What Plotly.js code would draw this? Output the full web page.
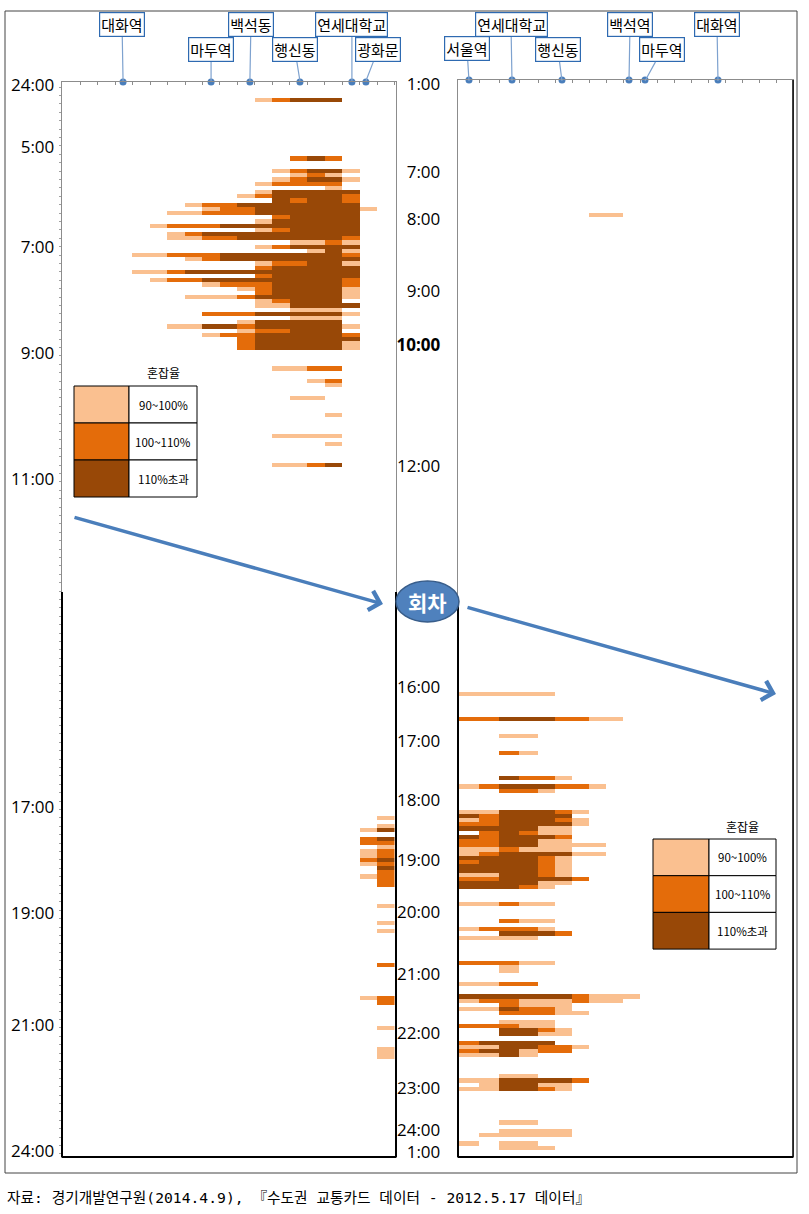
<!DOCTYPE html>
<html><head><meta charset="utf-8">
<script src="https://cdn.plot.ly/plotly-3.0.1.min.js"></script>
<style>html,body{margin:0;padding:0;background:#fff;}#chart{width:809px;height:1214px;}</style>
</head><body><div id="chart"></div>
<script>
// ---------------- DATA ----------------
const levelNames = ['90~100%', '100~110%', '110%초과'];
const levelColors = ['#FAC090', '#E46C0A', '#984807'];

// left panel (대화 → 광화문), 19 segments, train rows
const leftStations = ['대화역', '마두역', '백석동', '행신동', '연세대학교', '광화문'];
const leftStationX = [3.46, 8.49, 10.71, 13.57, 16.54, 17.34];
const leftColEdges = [0,1,2,3,4,5,6,7,8,9,10,11,12,13,14,15,16,17,18,19];
const leftTickPos = [-0.5, 14.3, 38.1, 63.3, 93.3, 171.4, 196.6, 223.3, 253.3];
const leftTickText = ['24:00', '5:00', '7:00', '9:00', '11:00', '17:00', '19:00', '21:00', '24:00'];
const leftRow = [3,17,20,21,22,23,24,25,26,27,28,29,30,31,32,33,34,35,36,37,38,39,40,41,42,43,44,45,46,47,48,49,50,51,52,53,54,55,56,57,58,59,60,61,62,
  67,70,71,74,78,83,85,90,
  174,176,177,179,180,181,182,183,184,185,186,187,188,189,190,195,199,201,209,217,218,224,229,230,231];
const leftStart = [11,13,12,13,12,11,15,11,10,12,7,8,6,12,11,5,11,6,6,13,11,14,4,7,11,11,4,11,5,8,10,11,7,11,11,13,8,13,10,6,10,8,10,10,10,
  12,14,15,13,15,12,15,12,
  18,18,17,17,17,18,17,17,17,17,18,18,17,18,18,18,18,18,18,17,18,18,18,18,18];
const leftCells = ['12333','232','12331','121','12331','12222','1','133333','1233332','32332','1223333333','1223333331','11222333333','23333','133333','122233333333','123333','12333333333','11223333332','1121','123333','131','1122233333332','1233333333','122331','233333','1123333333333','233333','122333333332','122233332','1233331','233331','1112333331','12333','113333','111','222333331','111','133333','11332333331','122333','122333332','2333333','2333331','2333331',
  '1122','12','1','11','1','1111','1','1123',
  '1','1','13','23','22','1','12','12','23','12','3','2','12','2','2','1','1','1','2','12','2','1','1','1','1'];

// right panel (서울역 → 대화), 19 segments (distance units)
const rightStations = ['서울역', '연세대학교', '행신동', '백석역', '마두역', '대화역'];
const rightStationX = [10, 53, 103, 170, 186, 259];
const rightColEdges = [0,20,40,60,79,96,113,130,147,164,181,198,215,232,249,266,283,300,317,334];
const rightTickPos = [-0.26, 20.7, 31.9, 49.0, 61.9, 90.7, 143.3, 156.2, 170.2, 184.5, 196.9, 211.6, 225.7, 238.8, 248.8, 254.0];
const rightTickText = ['1:00','7:00','8:00','9:00','<b>10:00</b>','12:00','16:00','17:00','18:00','19:00','20:00','21:00','22:00','23:00','24:00','1:00'];
const rightRow = [31,145,151,155,159,165,167,168,173,174,175,176,177,178,179,180,181,182,183,184,185,186,187,188,189,190,191,
  195,199,201,202,203,209,210,211,214,217,218,219,220,221,223,224,225,226,228,229,230,231,236,237,238,239,247,249,250,252,253];
const rightStart = [7,0,0,2,2,2,0,2,0,0,0,0,0,1,0,0,0,0,0,0,0,0,0,0,0,0,0,
  0,2,0,2,0,0,2,2,0,0,0,2,0,2,2,0,2,2,0,0,0,0,2,0,1,0,2,2,1,0,2];
const rightCells = ['11','11111','223332211','11','21','3221','12333221','221','1133321','323333','1233321','2233331','333311','23211','323332','223311','22331111','112111','12333311','333321','233321','333321','333321','113321','2233332','333311','33321',
  '11211','211','12221','3332','1111','22211','1','1','1122','3333332111','122111211','2111','113221','22211','111','22211','3321','3311','23333','1133221','233122','1131','11','1133332','13311','113321','11','1111','11111','1.11','111'];

// ---------------- BUILD ----------------
const W = 809, H = 1214;
const px = x => x / W, py = y => 1 - y / H;

function buildZ(nRows, rows, starts, cells) {
  const z = [];
  for (let r = 0; r < nRows; r++) z.push(new Array(19).fill(null));
  rows.forEach((r, i) => {
    const s = cells[i];
    for (let j = 0; j < s.length; j++) if (s[j] !== '.') z[r][starts[i] + j] = +s[j];
  });
  return z;
}
const NL = 256, NR = 257;
const rowsL = Array.from({length: NL}, (_, i) => i);
const rowsR = Array.from({length: NR}, (_, i) => i);
const cs = [[0, levelColors[0]], [1/3, levelColors[0]], [1/3, levelColors[1]], [2/3, levelColors[1]], [2/3, levelColors[2]], [1, levelColors[2]]];

const LTOP = -1.214, RTOP = -1.214;
const traces = [
  {type: 'heatmap', x: leftColEdges, y: rowsL, z: buildZ(NL, leftRow, leftStart, leftCells), xaxis: 'x', yaxis: 'y',
   colorscale: cs, zmin: 0.5, zmax: 3.5, showscale: false, hoverinfo: 'skip', zsmooth: false},
  {type: 'heatmap', x: rightColEdges, y: rowsR, z: buildZ(NR, rightRow, rightStart, rightCells), xaxis: 'x2', yaxis: 'y2',
   colorscale: cs, zmin: 0.5, zmax: 3.5, showscale: false, hoverinfo: 'skip', zsmooth: false},
  {type: 'scatter', mode: 'markers', x: leftStationX, y: leftStationX.map(() => LTOP), xaxis: 'x', yaxis: 'y',
   marker: {size: 7, color: '#4A7EBB'}, cliponaxis: false, hoverinfo: 'skip'},
  {type: 'scatter', mode: 'markers', x: rightStationX, y: rightStationX.map(() => RTOP), xaxis: 'x2', yaxis: 'y2',
   marker: {size: 7, color: '#4A7EBB'}, cliponaxis: false, hoverinfo: 'skip'}
];

const axLine = '#8c8c8c';
const tickFont = {family: 'Open Sans, Liberation Sans, sans-serif', size: 17, color: '#000'};
const minorY = {tickmode: 'linear', tick0: 0, dtick: 2, ticks: 'outside', ticklen: 2, tickcolor: '#a0a0a0', showgrid: false};
const layout = {
  width: W, height: H, margin: {l: 0, r: 0, t: 0, b: 0},
  paper_bgcolor: '#fff', plot_bgcolor: '#fff', showlegend: false,
  xaxis: {domain: [px(62), px(396)], range: [-0.03, 19.06], side: 'top', anchor: 'y', showline: true, mirror: true,
    linecolor: axLine, linewidth: 1.3, ticks: 'inside', ticklen: 3, tickcolor: axLine, tickvals: leftColEdges,
    showticklabels: false, showgrid: false, zeroline: false, fixedrange: true},
  yaxis: {domain: [py(1157), py(82)], range: [254.74, LTOP], anchor: 'x', showline: true, mirror: true,
    linecolor: axLine, linewidth: 1.3, ticks: '', tickvals: leftTickPos, ticktext: leftTickText, tickfont: tickFont,
    ticklabelstandoff: 3, minor: minorY, showgrid: false, zeroline: false, fixedrange: true},
  xaxis2: {domain: [px(458), px(793)], range: [-1, 334], side: 'top', anchor: 'y2', showline: true, mirror: true,
    linecolor: axLine, linewidth: 1.3, ticks: 'inside', ticklen: 3, tickcolor: axLine, tickvals: rightColEdges,
    showticklabels: false, showgrid: false, zeroline: false, fixedrange: true},
  yaxis2: {domain: [py(1157), py(80)], range: [255.2, RTOP], anchor: 'x2', showline: true, mirror: true,
    linecolor: axLine, linewidth: 1.3, ticks: '', tickvals: rightTickPos, ticktext: rightTickText, tickfont: tickFont,
    ticklabelstandoff: 13, showgrid: false, zeroline: false, fixedrange: true},
  shapes: [], annotations: []
};

const S = layout.shapes, A = layout.annotations;
function line(x0, y0, x1, y1, color, w) {
  S.push({type: 'line', xref: 'paper', yref: 'paper', x0: px(x0), y0: py(y0), x1: px(x1), y1: py(y1), line: {color: color, width: w}, layer: 'above'});
}
function rect(x0, y0, x1, y1, fill, color, w) {
  S.push({type: 'rect', xref: 'paper', yref: 'paper', x0: px(x0), y0: py(y0), x1: px(x1), y1: py(y1), fillcolor: fill, line: {color: color, width: w}, layer: 'above'});
}
function label(x, y, text, font) {
  A.push({x: px(x), y: py(y), xref: 'paper', yref: 'paper', xanchor: 'center', yanchor: 'middle', text: text, showarrow: false, font: font});
}
// outer frame
rect(5, 11, 797, 1173, 'rgba(0,0,0,0)', '#444', 1);
// darker lower frame segments
line(62, 592, 62, 1157, '#000', 2); line(396, 592, 396, 1157, '#000', 2); line(62, 1157, 396, 1157, '#000', 2);
line(458, 597, 458, 1157, '#000', 2); line(793, 80, 793, 1157, '#000', 1.5); line(458, 1157, 793, 1157, '#000', 2);

// station labels
const lblFont = {family: 'Noto Sans CJK KR, sans-serif', size: 15, color: '#000'};
function stationLabels(names, xs, xref, dotY, dxs, rowYs) {
  names.forEach((n, i) => A.push({x: xs[i], y: py(dotY), xref: xref, yref: 'paper', text: n, showarrow: true,
    arrowhead: 0, arrowwidth: 1.2, arrowcolor: '#7EA2CF', ax: dxs[i], ay: rowYs[i] - dotY,
    bordercolor: '#2E6AB1', borderwidth: 1.2, borderpad: 1, bgcolor: '#fff', font: lblFont}));
}
stationLabels(leftStations, leftStationX, 'x', 81, [-1, 0, 1, -5, 0, 12], [25, 50, 25, 50, 25, 50]);
stationLabels(rightStations, rightStationX, 'x2', 81, [-2, -1, -4, 1, 17, -1], [49, 25, 50, 25, 50, 25]);

// legend tables
const legFont = {family: 'Noto Sans CJK KR, sans-serif', size: 11.5, color: '#000'};
function legendTable(x0, y0, xm, x1, rh) {
  label((xm + x1) / 2, y0 - 13, '혼잡율', {family: 'Noto Sans CJK KR, sans-serif', size: 12, color: '#000'});
  levelNames.forEach((nm, i) => {
    const ya = y0 + i * rh, yb = y0 + (i + 1) * rh;
    rect(x0, ya, xm, yb, levelColors[i], '#000', 1);
    rect(xm, ya, x1, yb, '#fff', '#000', 1);
    label((xm + x1) / 2, (ya + yb) / 2, nm, legFont);
  });
}
legendTable(74, 386, 129, 197, 37);
legendTable(653, 839, 709, 776, 36.7);

// flow arrows
function arrow(x0, y0, x1, y1) {
  A.push({x: px(x1), y: py(y1), xref: 'paper', yref: 'paper', text: '', showarrow: true, ax: x0 - x1, ay: y0 - y1,
    arrowhead: 4, arrowsize: 1.1, arrowwidth: 3.5, arrowcolor: '#4A7EBB', standoff: 0});
}
arrow(73, 517, 383, 604);
arrow(466, 607, 776, 694);

// turnaround ellipse
S.push({type: 'circle', xref: 'paper', yref: 'paper', x0: px(396), y0: py(581), x1: px(459), y1: py(622),
  fillcolor: '#4F81BD', line: {color: '#385D8A', width: 1.5}, layer: 'above'});
label(427.5, 601.5, '<b>회차</b>', {family: 'Noto Sans CJK KR, sans-serif', size: 21, color: '#fff'});

// source note
A.push({x: px(5), y: py(1197), xref: 'paper', yref: 'paper', xanchor: 'left', yanchor: 'middle', showarrow: false,
  text: '자료: 경기개발연구원(2014.4.9), 『수도권 교통카드 데이터 - 2012.5.17 데이터』',
  font: {family: 'DejaVu Sans Mono, Noto Sans CJK KR, monospace', size: 14.7, color: '#000'}});

Plotly.newPlot('chart', traces, layout, {displayModeBar: false, staticPlot: true});
</script></body></html>
